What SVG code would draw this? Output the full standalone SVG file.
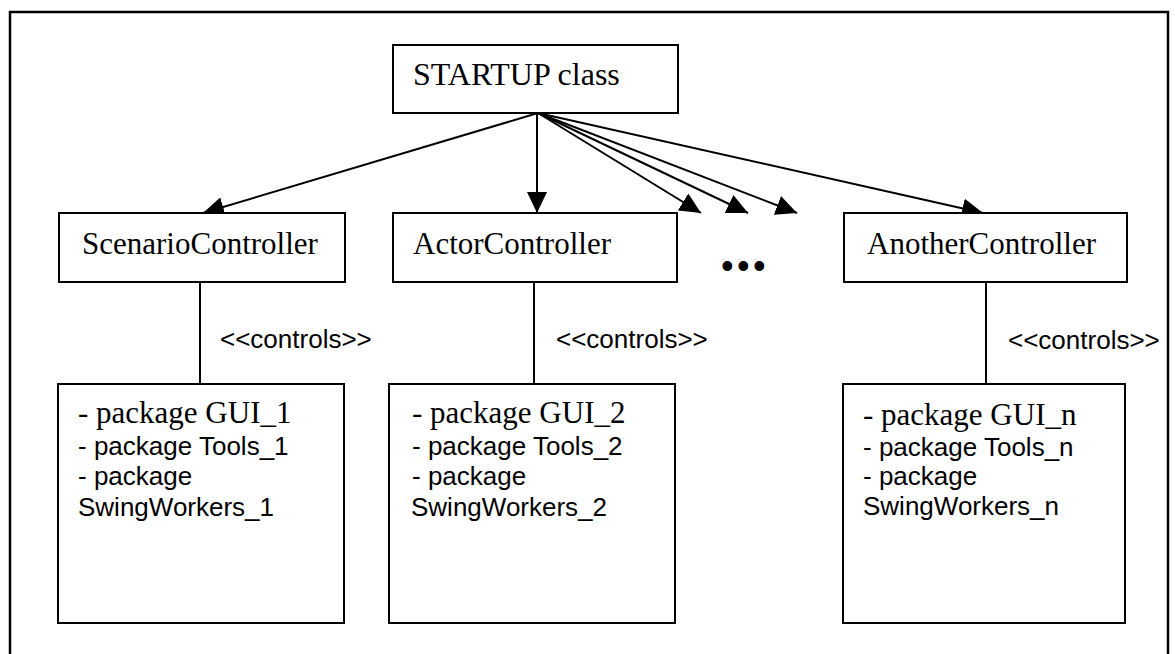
<svg xmlns="http://www.w3.org/2000/svg" width="1175" height="654" viewBox="0 0 1175 654">
  <style>
    .box { fill: #fff; stroke: #000; stroke-width: 2; }
    .frame { fill: none; stroke: #000; stroke-width: 2.5; }
    .edge { fill: none; stroke: #000; stroke-width: 2; }
    .serif { font-family: "Liberation Serif", "Times New Roman", serif; font-size: 31px; fill: #000; }
    .sans { font-family: "Liberation Sans", Arial, sans-serif; font-size: 26px; fill: #000; }
  </style>
  <defs>
    <marker id="arrow" markerUnits="userSpaceOnUse" markerWidth="21" markerHeight="20" refX="21" refY="10" orient="auto">
      <path d="M0,0 L21,10 L0,20 z" fill="#000"/>
    </marker>
  </defs>

  <rect width="1175" height="654" fill="#fff"/>
  <!-- outer frame, open at the bottom edge -->
  <rect class="frame" x="10" y="12" width="1158" height="660"/>

  <!-- connectors -->
  <g id="connectors">
    <line class="edge" x1="538" y1="113" x2="203" y2="213" marker-end="url(#arrow)"/>
    <line class="edge" x1="537" y1="113" x2="537" y2="213" marker-end="url(#arrow)"/>
    <line class="edge" x1="538" y1="113" x2="701" y2="213" marker-end="url(#arrow)"/>
    <line class="edge" x1="538" y1="113" x2="748" y2="213" marker-end="url(#arrow)"/>
    <line class="edge" x1="538" y1="113" x2="797" y2="213" marker-end="url(#arrow)"/>
    <line class="edge" x1="538" y1="113" x2="983" y2="213" marker-end="url(#arrow)"/>
    <line class="edge" x1="200" y1="282" x2="200" y2="384"/>
    <line class="edge" x1="534" y1="282" x2="534" y2="384"/>
    <line class="edge" x1="986" y1="282" x2="986" y2="384"/>
    <text class="sans" x="220" y="348">&lt;&lt;controls&gt;&gt;</text>
    <text class="sans" x="556" y="348">&lt;&lt;controls&gt;&gt;</text>
    <text class="sans" x="1008" y="349">&lt;&lt;controls&gt;&gt;</text>
  </g>

  <g id="startup">
    <rect class="box" x="393" y="45" width="285" height="68"/>
    <text class="serif" x="413" y="85" style="font-size:32px">STARTUP class</text>
  </g>

  <g id="scenario-controller">
    <rect class="box" x="59" y="213" width="286" height="69"/>
    <text class="serif" x="82" y="254">ScenarioController</text>
  </g>

  <g id="actor-controller">
    <rect class="box" x="393" y="213" width="284" height="69"/>
    <text class="serif" x="413" y="254">ActorController</text>
  </g>

  <g id="more-controllers">
    <text x="721" y="278" style="font-family:'Liberation Sans', Arial, sans-serif; font-size:36px; letter-spacing:3.4px">•••</text>
  </g>

  <g id="another-controller">
    <rect class="box" x="844" y="213" width="283" height="69"/>
    <text class="serif" x="867" y="254">AnotherController</text>
  </g>

  <g id="packages-1">
    <rect class="box" x="58" y="384" width="286" height="239"/>
    <text class="serif" x="78" y="423">- package GUI_1</text>
    <text class="sans" x="78" y="455">- package Tools_1</text>
    <text class="sans" x="78" y="485">- package</text>
    <text class="sans" x="78" y="516">SwingWorkers_1</text>
  </g>

  <g id="packages-2">
    <rect class="box" x="389" y="384" width="286" height="239"/>
    <text class="serif" x="412" y="423">- package GUI_2</text>
    <text class="sans" x="412" y="455">- package Tools_2</text>
    <text class="sans" x="412" y="485">- package</text>
    <text class="sans" x="411" y="516">SwingWorkers_2</text>
  </g>

  <g id="packages-n">
    <rect class="box" x="843" y="384" width="282" height="239"/>
    <text class="serif" x="863" y="425">- package GUI_n</text>
    <text class="sans" x="863" y="456">- package Tools_n</text>
    <text class="sans" x="863" y="485">- package</text>
    <text class="sans" x="863" y="515">SwingWorkers_n</text>
  </g>
</svg>
